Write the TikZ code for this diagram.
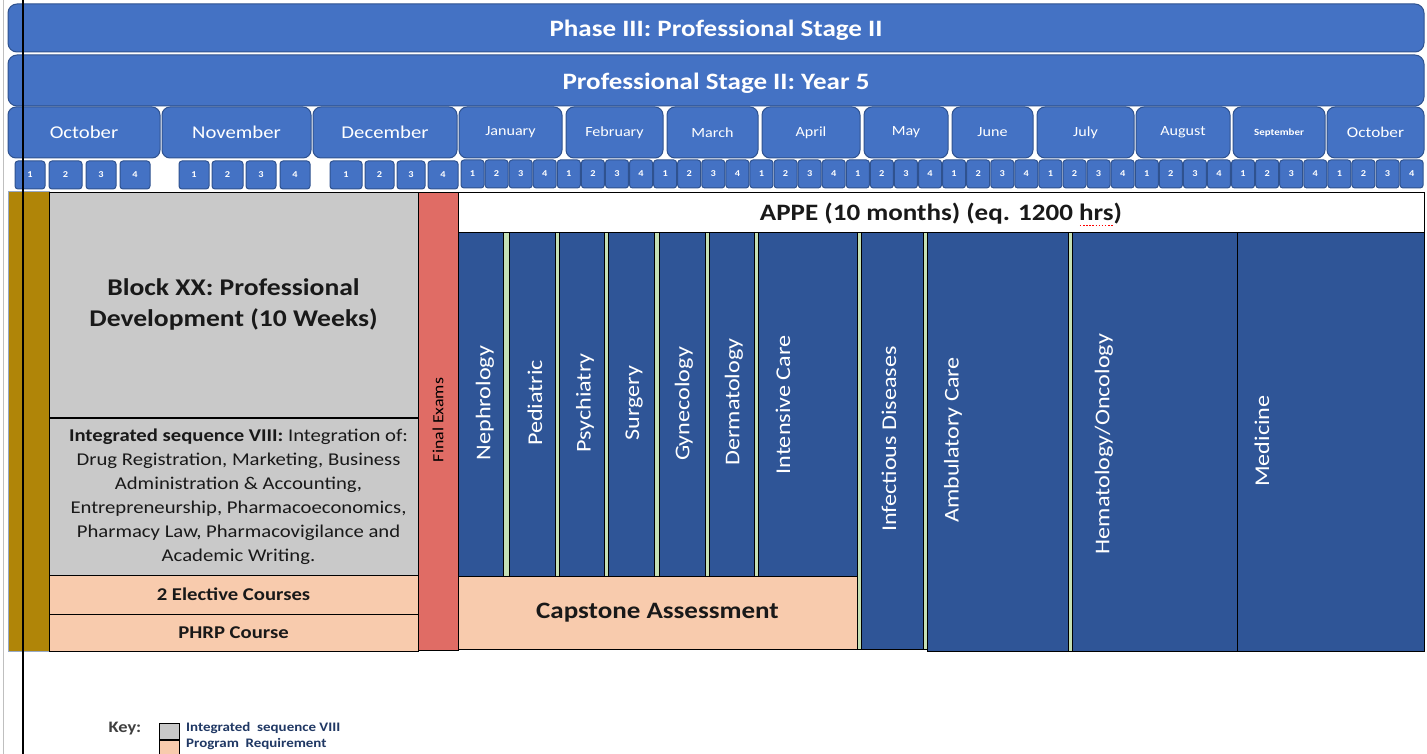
\documentclass[tikz,border=0pt]{standalone}
\usepackage{fontspec}
\setmainfont{Carlito}[FakeStretch=1.15]
\usepackage{tikz}
\usetikzlibrary{positioning}

\definecolor{hdrblue}{HTML}{4472C4}
\definecolor{hdredge}{HTML}{2F528F}
\definecolor{rotblue}{HTML}{2F5597}
\definecolor{seqgray}{HTML}{C9C9C9}
\definecolor{reqpeach}{HTML}{F8CBAD}
\definecolor{examred}{HTML}{E06C65}
\definecolor{bargold}{HTML}{B08508}
\definecolor{sepgreen}{HTML}{C5E0B4}
\definecolor{keynavy}{HTML}{203864}
\definecolor{proofred}{HTML}{FF0000}

\newcommand{\fsz}[2]{\fontsize{#1}{#2}\selectfont}
% lower a text without changing the box size
\newcommand{\sinktext}[2]{\raisebox{-#1}[\height][\depth]{#2}}
% box filling (x1,y1)--(x2,y2): name, style, x1, y1, x2, y2, text
\newcommand{\blk}[7]{%
  \node [#2, minimum width={(#5-#3)*1pt}, minimum height={(#6-#4)*1pt}]
        (#1) at ({(#3+#5)/2}, {(#4+#6)/2}) {#7};}
% red dotted proofing mark under a word
\newcommand{\spellmark}[1]{\setbox0=\hbox{#1}\dimen0=\wd0 \rlap{\box0}%
  \smash{\raisebox{-5pt}{\color{proofred}\hbox to \dimen0{\xleaders\hbox to 3pt{\hss\rule{1.5pt}{1.3pt}\hss}\hfill}}}}

\tikzset{
  hdrbox/.style={draw=hdredge, fill=hdrblue, line width=1pt, rounded corners=9pt,
                 text=white, inner sep=0pt},
  monthbox/.style={hdrbox, rounded corners=8pt},
  weekbox/.style={hdrbox, rounded corners=3pt, font=\fsz{9}{9}\bfseries},
  plainbox/.style={draw=black, line width=0.8pt, inner sep=0pt, text=black!90},
  seqbox/.style={plainbox, fill=seqgray},
  reqbox/.style={plainbox, fill=reqpeach},
  rotbox/.style={plainbox, fill=rotblue},
  rotlabel/.style={rotate=90, text=white, inner sep=0pt, font=\fsz{21}{21}},
  sepbar/.style={draw=black, line width=0.6pt, fill=sepgreen},
  keytext/.style={anchor=west, inner sep=0pt, text=keynavy, font=\fsz{13}{13}\bfseries},
}

\begin{document}
\begin{tikzpicture}[x=1pt, y=-1pt]
  \path [fill=white, use as bounding box] (0, 0) rectangle (1427, 754);

  % Draw phase and year headers.
  \blk{phase}{hdrbox, font=\fsz{23.5}{24}\bfseries}{8}{4}{1424}{52}
      {\sinktext{2pt}{Phase III: Professional Stage II}}
  \blk{year}{hdrbox, font=\fsz{23.5}{24}\bfseries}{8}{55}{1424}{106}
      {\sinktext{3pt}{Professional Stage II: Year 5}}

  % Draw month row.
  \foreach \nm/\xa/\xb/\fs/\lbl in {oct/8/160/18/October, nov/162/311/18/November,
      dec/313/457/18/December, jan/459/562/14/January, feb/566/663/14/February,
      mar/667/758/14/March, apr/762/860/14/April, may/864/948/14/May,
      jun/952/1033/14/June, jul/1037/1134/14/July, aug/1136/1230/14/August,
      sep/1233/1325/9.5/\textbf{September}, octb/1327/1424/15/October} {
    \blk{\nm}{monthbox, font=\fsz{\fs}{\fs}}{\xa}{107}{\xb}{158}{\lbl}
  }

  % Draw week row: Oct--Dec spread out, Jan--Oct packed.
  \foreach \xa/\xb/\wk [count=\n] in {15/45/1, 49/82/2, 86/116/3, 120/150/4,
      179/209/1, 212/243/2, 246/276/3, 280/310/4,
      330/362/1, 365/394/2, 397/425/3, 428/458/4} {
    \blk{wq\n}{weekbox}{\xa}{161}{\xb}{189}{\wk}
  }
  \foreach \i in {0,...,39} {
    \pgfmathsetmacro{\xa}{461+24.08*\i}
    \pgfmathtruncatemacro{\wk}{mod(\i,4)+1}
    \blk{wk\i}{weekbox}{\xa}{160}{\xa+23}{188}{\wk}
  }

  % Draw the left column of the year.
  \blk{gold}{draw=hdredge!50, line width=1pt, fill=bargold}{8}{192}{49}{651}{}
  \blk{block}{seqbox, align=center, font=\fsz{24}{31}\bfseries}{49}{192}{418}{417}
      {Block XX: Professional\\Development (10 Weeks)}
  \blk{intseq}{seqbox, align=center, font=\fsz{18}{24}}{49}{418}{418}{575}
      {\hspace*{10pt}\textbf{Integrated sequence VIII:} Integration of:\\
       \hspace*{10pt}Drug Registration, Marketing, Business\\
       \hspace*{10pt}Administration \& Accounting,\\
       \hspace*{10pt}Entrepreneurship, Pharmacoeconomics,\\
       \hspace*{10pt}Pharmacy Law, Pharmacovigilance and\\
       \hspace*{10pt}Academic Writing.}
  \blk{elect}{reqbox, font=\fsz{18}{18}\bfseries}{49}{575}{418}{614}{2 Elective Courses}
  \blk{phrp}{reqbox, font=\fsz{18}{18}\bfseries}{49}{614}{418}{651}{PHRP Course}
  \blk{exams}{plainbox, fill=examred}{418}{192}{458}{650}{}
  \node [rotate=90, font=\fsz{15.5}{15.5}, inner sep=0pt] (examslbl) at (438, 420) {Final Exams};

  % Draw APPE rotations.
  \blk{appe}{plainbox, fill=white, font=\fsz{23.5}{24}\bfseries}{458}{192}{1424}{232}
      {\sinktext{2pt}{APPE (10 months) (eq. 1200 \spellmark{hrs})}}
  \foreach \xa/\xb/\yb in {503/509/576, 555/559/576, 604/608/576, 654/659/576,
      705/709/576, 754/758/576, 857/861/649, 923/927/649, 1068/1072/651}
    \draw [sepbar] (\xa, 232) rectangle (\xb, \yb);
  \foreach \nm/\xa/\xb/\yb/\lx/\ly/\lbl in {nephro/458/503/576/485/403/Nephrology,
      pedia/509/555/576/535/403/Pediatric, psych/559/604/576/585/403/Psychiatry,
      surg/608/654/576/634/403/Surgery, gyn/659/705/576/684/404/Gynecology,
      derm/709/754/576/734/402/Dermatology, icu/758/857/578/783/405/Intensive Care,
      infect/861/923/649/889/439/Infectious Diseases, ambu/927/1068/651/953/440/Ambulatory Care,
      hemonc/1072/1237/651/1104/444/{Hematology/Oncology}, med/1237/1424/651/1262/441/Medicine} {
    \blk{\nm}{rotbox}{\xa}{232}{\xb}{\yb}{}
    \node [rotlabel] (\nm-lbl) at (\lx, \ly) {\lbl};
  }
  \blk{capstone}{reqbox, font=\fsz{23.5}{24}\bfseries}{458}{576}{857}{649}{Capstone Assessment}

  % Draw key.
  \node [font=\fsz{16}{16}\bfseries, text=black!75, inner sep=0pt] (key) at (125, 729) {Key:};
  \blk{keyseq}{seqbox}{159}{723}{179}{739}{}
  \blk{keyreq}{reqbox}{159}{740}{179}{756}{}
  \node [keytext] (keyseqlbl) at (186, 728) {Integrated\ \ sequence VIII};
  \node [keytext] (keyreqlbl) at (186, 744.5) {Program\ \ Requirement};

  % Page rules.
  \draw [black!25, line width=1pt] (3, 0) -- (3, 754);
  \draw [line width=1.8pt] (23, 0) -- (23, 754);
\end{tikzpicture}
\end{document}
